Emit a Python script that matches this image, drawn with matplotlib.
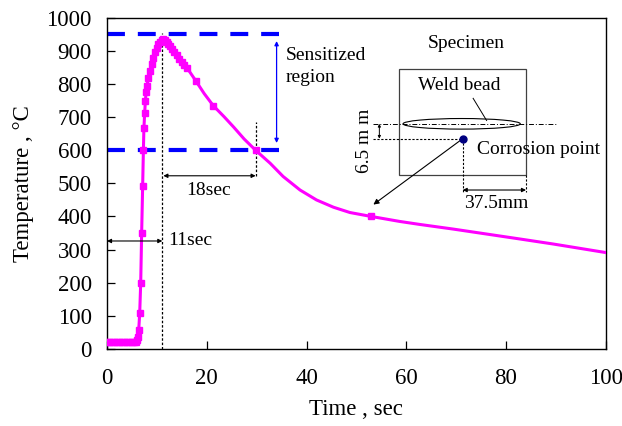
import matplotlib
matplotlib.use("Agg")
import matplotlib.pyplot as plt
from matplotlib.patches import Rectangle, Ellipse

# thermal cycle (time in s, temperature in degC)
time_s = [0, 0.5, 1.0, 1.5, 2.0, 2.5, 3.0, 3.5, 4.0, 4.5, 5.0, 5.5, 5.8,
          6.0, 6.16, 6.36, 6.56, 6.76, 6.95, 7.15, 7.3, 7.4, 7.56, 7.7,
          7.85, 8.0, 8.3, 8.63, 8.97, 9.3, 9.65, 9.97, 10.3, 10.6, 11.0,
          11.3, 11.6, 12.0, 12.3, 12.65, 13.0, 13.5, 14.0, 14.5, 15.0,
          15.5, 16.0, 17.8, 19.5, 21.3, 23.5, 25.4, 27.5, 29.8, 32.7, 35.3,
          38.7, 42.0, 45.4, 48.7, 53.0, 58.7, 62.7, 69.4, 76.1, 82.8,
          89.4, 100]
temp_c = [20, 20, 20, 20, 20, 20, 20, 20, 20, 20, 20, 20, 22,
          28, 37, 57, 108, 200, 350, 492, 601, 666, 714, 750,
          777, 795, 817, 840, 860, 880, 897, 908, 920, 928, 934,
          935, 934, 928, 921, 914, 906, 896, 887, 877, 868,
          859, 850, 810, 771, 735, 701, 670, 634, 600, 561, 521,
          480, 450, 428, 412, 400, 385, 376, 362, 347, 332,
          317, 291]
# logged points carry a square marker; the rest only trace the curve
logged = ([True] * 48 + [False, True, False, False, False, True]
          + [False] * 6 + [True] + [False] * 7)

sens_low, sens_high = 600, 950

plt.rcParams['font.family'] = ['Liberation Serif', 'DejaVu Serif']
fs = 14

fig = plt.figure(figsize=(6.22, 4.26), dpi=100)
ax = fig.add_axes([0.172, 0.181, 0.802, 0.777])

ax.plot(time_s, temp_c, color='#FF00FF', lw=2.2, marker='s', ms=4.6,
        markevery=logged, zorder=3)

# sensitized region limits
for lvl in (sens_low, sens_high):
    ax.plot([0, 34.4], [lvl, lvl], color='#0000FF', lw=3,
            linestyle=(0, (4.3, 3.1)), zorder=2)
ax.annotate('', xy=(34.0, 622), xytext=(34.0, 930),
            arrowprops=dict(arrowstyle='<|-|>', color='#0000FF', lw=0.9,
                            mutation_scale=6, shrinkA=0, shrinkB=0))
ax.text(35.8, 853, 'Sensitized\nregion', fontsize=fs, va='center',
        ha='left', linespacing=1.45)

# time markers
ax.plot([11.1, 11.1], [0, 955], color='black', lw=0.9, linestyle=(0, (2, 1.5)))
ax.plot([29.9, 29.9], [523, 684], color='black', lw=0.9, linestyle=(0, (2, 1.5)))
ax.annotate('', xy=(0, 326), xytext=(11.1, 326),
            arrowprops=dict(arrowstyle='<|-|>', color='black', lw=0.8,
                            mutation_scale=6, shrinkA=0, shrinkB=0))
ax.text(12.3, 326, '11sec', fontsize=fs, va='center', ha='left')
ax.annotate('', xy=(11.3, 523), xytext=(29.8, 523),
            arrowprops=dict(arrowstyle='<|-|>', color='black', lw=0.8,
                            mutation_scale=6, shrinkA=0, shrinkB=0))
ax.text(20.4, 478, '18sec', fontsize=fs, va='center', ha='center')

# specimen sketch
ax.text(72.1, 923, 'Specimen', fontsize=fs, ha='center', va='center')
ax.add_patch(Rectangle((58.6, 525), 25.4, 321, fill=False,
                       edgecolor='#404040', lw=0.9))
ax.add_patch(Ellipse((71.1, 680), 23.5, 32, fill=False,
                     edgecolor='black', lw=0.8))
ax.plot([53.3, 90], [680, 680], color='black', lw=0.7,
        linestyle=(0, (5, 2, 1, 2)))
ax.text(70.6, 795, 'Weld bead', fontsize=fs, ha='center', va='center')
ax.plot([73.4, 76.1], [757, 690], color='black', lw=0.7)
ax.plot([53.3, 71.3], [635, 635], color='black', lw=0.8,
        linestyle=(0, (2, 1.5)))
ax.annotate('', xy=(54.6, 635), xytext=(54.6, 680),
            arrowprops=dict(arrowstyle='<|-|>', color='black', lw=0.7,
                            mutation_scale=4, shrinkA=0, shrinkB=0))
ax.text(51.6, 628, '6.5 m m', fontsize=fs, rotation=90,
        ha='center', va='center')
ax.plot([71.3, 71.3], [635, 475], color='black', lw=0.8,
        linestyle=(0, (2, 1.5)))
ax.plot([84.0, 84.0], [525, 475], color='black', lw=0.8,
        linestyle=(0, (2, 1.5)))
ax.annotate('', xy=(71.3, 480), xytext=(84.0, 480),
            arrowprops=dict(arrowstyle='<|-|>', color='black', lw=0.8,
                            mutation_scale=6, shrinkA=0, shrinkB=0))
ax.text(78.1, 438, '37.5mm', fontsize=fs, ha='center', va='center')
ax.text(74.2, 603, 'Corrosion point', fontsize=fs, ha='left', va='center')
ax.annotate('', xy=(53.4, 436), xytext=(71.3, 635),
            arrowprops=dict(arrowstyle='-|>', color='black', lw=0.8,
                            mutation_scale=8, shrinkA=0, shrinkB=0))
ax.plot([71.3], [635], 'o', color='#000080', ms=5, zorder=4)

ax.set_xlim(0, 100)
ax.set_ylim(0, 1000)
ax.set_xticks(range(0, 101, 20))
ax.set_yticks(range(0, 1001, 100))
ax.tick_params(direction='in', length=5.5, width=0.9, labelsize=16.5)
ax.tick_params(axis='x', pad=14)
ax.tick_params(axis='y', pad=11)
for sp in ax.spines.values():
    sp.set_linewidth(1.0)
ax.set_xlabel('Time , sec', fontsize=16.5, labelpad=7)
ax.set_ylabel('Temperature , °C', fontsize=16.5, labelpad=9)

fig.savefig('out.png', dpi=100)
